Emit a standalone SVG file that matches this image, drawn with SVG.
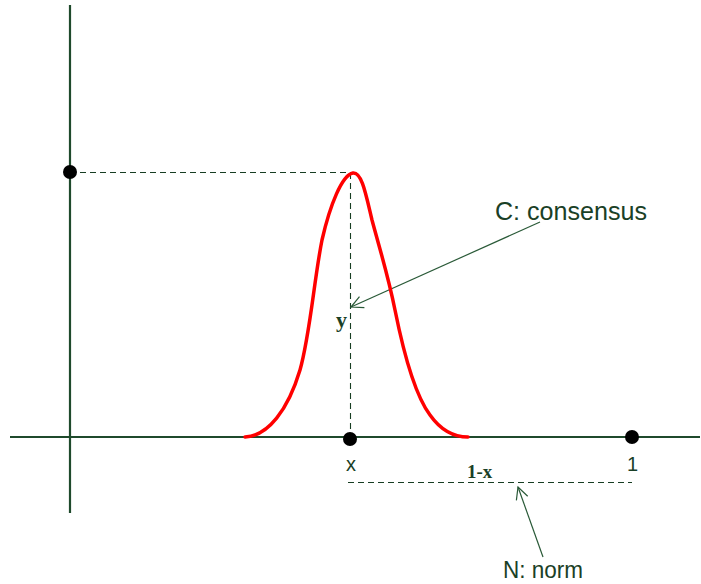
<svg xmlns="http://www.w3.org/2000/svg" width="701" height="584" viewBox="0 0 701 584">
<style>
.ax{stroke:#1f4a2c;stroke-width:2.2;fill:none}
.dash{stroke:#173d22;stroke-width:1.1;stroke-dasharray:6,4;fill:none}
.ptr{stroke:#2a5a38;stroke-width:1.2;fill:none}
.dot{fill:#000}
.lbl{font-family:"Liberation Sans",Arial,sans-serif;fill:#1a4026}
.math{font-family:"Liberation Serif","Times New Roman",serif;font-weight:bold;fill:#1a4026}
</style>
<defs>
<marker id="open" markerUnits="userSpaceOnUse" markerWidth="16" markerHeight="16" viewBox="-14 -8 16 16" refX="0" refY="0" orient="auto">
<path d="M-12,-6 L0,0 L-12,6" fill="none" stroke="#2a5a38" stroke-width="1.2"/>
</marker>
</defs>
<g id="axes">
<line class="ax" x1="70" y1="5" x2="70" y2="513"/>
<line class="ax" x1="10" y1="437" x2="700" y2="437"/>
</g>
<g id="connectors">
<line class="dash" x1="70" y1="172.5" x2="352" y2="172.5"/>
<line class="dash" x1="350.5" y1="173" x2="350.5" y2="437"/>
<line class="dash" x1="348" y1="482.5" x2="632" y2="482.5"/>
<line class="ptr" x1="540" y1="222" x2="351" y2="307" marker-end="url(#open)"/>
<line class="ptr" x1="543" y1="557" x2="518" y2="487" marker-end="url(#open)"/>
</g>
<g id="curve">
<path d="M245,437 C268,436 288,410 300,370 C310,335 314,280 322,240 C330,205 342,175 353,173 C362,172 366,195 372,220 C380,250 388,275 395,310 C403,350 415,395 430,415 C442,432 455,437 468,437" fill="none" stroke="#ff0000" stroke-width="3.5" stroke-linecap="round"/>
</g>
<g id="dots">
<circle class="dot" cx="70" cy="172" r="7"/>
<circle class="dot" cx="350" cy="439" r="7"/>
<circle class="dot" cx="632" cy="437" r="7"/>
</g>
<g id="labels">
<text class="lbl" x="495" y="220" font-size="25" textLength="152" lengthAdjust="spacingAndGlyphs">C: consensus</text>
<text class="lbl" x="503" y="578" font-size="24" textLength="80" lengthAdjust="spacingAndGlyphs">N: norm</text>
<text class="lbl" x="346" y="471" font-size="20">x</text>
<text class="lbl" x="627" y="471" font-size="20">1</text>
<text class="math" x="467" y="478" font-size="19">1-x</text>
<text class="math" x="336" y="327" font-size="22">y</text>
</g>
</svg>
